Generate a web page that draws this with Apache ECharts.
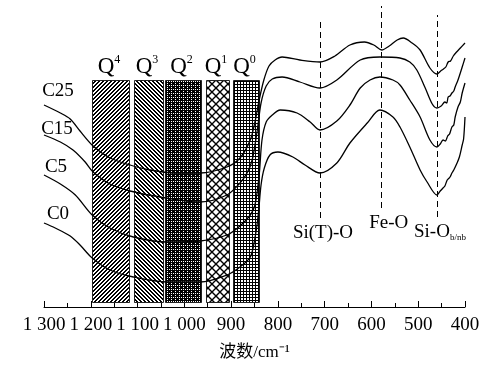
<!DOCTYPE html>
<html>
<head>
<meta charset="utf-8">
<script src="https://cdn.jsdelivr.net/npm/echarts@6/dist/echarts.min.js"></script>
<style>
  html, body { margin: 0; padding: 0; background: #fff; }
  #chart { width: 485px; height: 365px; }
</style>
</head>
<body>
<div id="chart"></div>
<script>
// spectra, [wavenumber cm-1, relative intensity]
const c25 = [[1300,202],[1265,194],[1244,188],[1223,176],[1195,161],[1159,149],[1116,142],[1073,137],[1020,134],[966,134],[909,140],[881,149],[859,167],[849,185],[840,207],[830,227],[819,241],[806,247],[791,250],[753,247],[710,245],[678,251],[646,262],[615,265],[595,262],[578,257],[562,261],[545,267],[532,269],[513,264],[496,257],[475,239],[460,233],[452,236],[446,238],[441,240],[436,245],[431,246],[425,251],[418,255],[410,259],[400,264]];
const c15 = [[1300,172],[1265,165],[1238,157],[1212,145],[1195,135],[1159,123],[1116,116],[1052,110],[966,105],[909,112],[881,124],[866,134],[855,147],[844,177],[836,204],[825,221],[812,228],[791,230],[753,225],[710,219],[674,227],[624,247],[582,250],[539,249],[518,245],[503,237],[485,219],[470,203],[460,199],[451,201],[443,205],[439,204],[436,210],[432,211],[428,214],[424,216],[421,220],[415,227],[406,240],[400,249]];
const c5 = [[1300,132],[1265,123],[1233,112],[1197,92],[1159,79],[1109,70],[1037,65],[966,66],[909,72],[881,81],[859,92],[849,102],[840,132],[834,167],[825,185],[812,192],[795,197],[759,194],[731,185],[710,177],[674,186],[646,202],[624,219],[603,227],[582,230],[554,227],[539,222],[518,207],[496,190],[475,167],[460,160],[453,163],[447,167],[442,166],[437,171],[433,173],[428,180],[424,182],[421,190],[415,200],[410,205],[406,214],[400,224]];
const c0 = [[1300,84],[1276,79],[1244,71],[1223,62],[1197,49],[1159,37],[1109,30],[1037,25],[966,25],[909,32],[881,40],[859,50],[849,69],[842,92],[836,122],[829,139],[817,152],[800,155],[768,150],[742,142],[710,134],[674,144],[646,164],[609,184],[582,197],[554,190],[539,180],[518,160],[496,137],[481,125],[460,112],[453,116],[447,119],[443,121],[438,127],[432,130],[428,134],[424,137],[417,144],[412,150],[406,162],[403,168],[400,190]];
const seriesNames = ['C25', 'C15', 'C5', 'C0'];

// Qn structural units, wavenumber ranges
const bandSup = ['4', '3', '2', '1', '0'];
const bandFrom = [1197, 1107, 1041, 953, 896];
const bandTo = [1118, 1045, 964, 904, 840];
const bandLow = [5, 5, 5, 5, 5];
const bandHigh = [227, 227, 227, 227, 227];

// assigned vibrations
const peakPos = [710, 578, 460];
const peakNames = ['Si(T)-O', 'Fe-O', 'Si-O{sub|b/nb}'];
const peakBottom = [89, 99, 90];
const peakTop = [289, 301, 292];

const FONT = "'Liberation Serif', 'Times New Roman', 'Noto Sans CJK SC', serif";

function makePattern(w, h, draw) {
  const c = document.createElement('canvas');
  c.width = w; c.height = h;
  const ctx = c.getContext('2d');
  ctx.fillStyle = '#fff';
  ctx.fillRect(0, 0, w, h);
  ctx.fillStyle = '#000';
  draw(ctx, w, h);
  return { image: c, repeat: 'repeat' };
}

const patterns = [
  // Q4: forward diagonal
  makePattern(4, 4, (ctx) => {
    for (let i = 0; i < 4; i++) {
      ctx.fillRect(i, 3 - i, 1, 1);
      ctx.fillRect(i, (4 - i) % 4, 1, 1);
    }
  }),
  // Q3: back diagonal
  makePattern(4, 4, (ctx) => {
    for (let i = 0; i < 4; i++) {
      ctx.fillRect(i, i, 1, 1);
      ctx.fillRect(i, (i + 1) % 4, 1, 1);
    }
  }),
  // Q2: dense dark dots
  makePattern(4, 4, (ctx) => {
    ctx.fillRect(0, 0, 4, 4);
    ctx.fillStyle = '#fff';
    ctx.fillRect(1, 1, 1, 1);
    ctx.fillRect(3, 3, 1, 1);
    ctx.fillRect(3, 1, 1, 1);
  }),
  // Q1: diagonal crosshatch
  makePattern(8, 8, (ctx) => {
    ctx.strokeStyle = '#000';
    ctx.lineWidth = 1.4;
    ctx.beginPath();
    ctx.moveTo(0, 0); ctx.lineTo(8, 8);
    ctx.moveTo(0, 8); ctx.lineTo(8, 0);
    ctx.stroke();
  }),
  // Q0: square grid
  makePattern(3, 3, (ctx) => {
    ctx.fillRect(0, 0, 3, 1);
    ctx.fillRect(0, 0, 1, 3);
  })
];

const bandData = bandFrom.map((f, i) => [f, bandTo[i], bandLow[i], bandHigh[i]]);

const labelOffsets = [[14, -14], [13, -6], [12, -8], [14, -9]];

const chart = echarts.init(document.getElementById('chart'));

const lineSeries = [c25, c15, c5, c0].map((d, i) => ({
  name: seriesNames[i],
  type: 'line',
  data: d,
  z: 5,
  smooth: 0.3,
  showSymbol: false,
  symbol: 'none',
  lineStyle: { color: '#000', width: 1.3 },
  emphasis: { disabled: true },
  markPoint: {
    silent: true,
    symbol: 'circle',
    symbolSize: 0,
    label: {
      show: true,
      position: 'inside',
      offset: labelOffsets[i],
      formatter: seriesNames[i],
      color: '#000',
      fontSize: 19,
      fontFamily: FONT
    },
    data: [{ coord: d[0] }]
  }
}));

const option = {
  animation: false,
  backgroundColor: '#fff',
  grid: { left: 44, right: 20, top: 0, bottom: 58, outerBoundsMode: 'none' },
  xAxis: {
    type: 'value',
    inverse: true,
    min: 400,
    max: 1300,
    interval: 100,
    name: '波数/cm⁻¹',
    nameLocation: 'middle',
    nameGap: 37,
    nameTextStyle: { color: '#000', fontSize: 17, fontFamily: FONT },
    axisLine: { show: true, onZero: false, lineStyle: { color: '#000', width: 1 } },
    axisTick: { show: true, inside: true, length: 6, lineStyle: { color: '#000' } },
    minorTick: { show: true, splitNumber: 2, length: 4, lineStyle: { color: '#000' } },
    splitLine: { show: false },
    axisLabel: {
      color: '#000',
      fontSize: 19,
      fontFamily: FONT,
      margin: 9,
      formatter: (v) => v >= 1000 ? Math.floor(v / 1000) + ' ' + String(v % 1000).padStart(3, '0') : String(v)
    }
  },
  yAxis: {
    type: 'value',
    min: 0,
    max: 307,
    show: false
  },
  series: [
    {
      type: 'custom',
      name: 'bands',
      z: 1,
      silent: true,
      data: bandData,
      renderItem: (params, api) => {
        const i = params.dataIndex;
        const a = api.coord([api.value(0), api.value(3)]);
        const b = api.coord([api.value(1), api.value(2)]);
        const x = Math.round(Math.min(a[0], b[0])) + 0.5;
        const y = Math.round(Math.min(a[1], b[1])) + 0.5;
        const w = Math.round(Math.abs(b[0] - a[0]));
        const h = Math.round(Math.abs(b[1] - a[1]));
        return {
          type: 'group',
          children: [
            {
              type: 'rect',
              shape: { x: x, y: y, width: w, height: h },
              style: { fill: patterns[i], stroke: '#222', lineWidth: 1 }
            },
            {
              type: 'text',
              x: x + w / 2 - 2,
              y: y - 1,
              style: {
                text: 'Q{sup|' + bandSup[i] + '}',
                align: 'center',
                verticalAlign: 'bottom',
                fill: '#000',
                fontSize: 23,
                fontFamily: FONT,
                rich: {
                  sup: { fontSize: 12, fontFamily: FONT, verticalAlign: 'top', lineHeight: 26, fill: '#000' }
                }
              }
            }
          ]
        };
      }
    },
    ...lineSeries,
    {
      type: 'line',
      name: 'peaks',
      data: [],
      z: 4,
      markLine: {
        silent: true,
        symbol: ['none', 'none'],
        lineStyle: { color: '#000', type: [6, 4], width: 1 },
        label: {
          show: true,
          position: 'start',
          distance: 6,
          color: '#000',
          fontSize: 19,
          fontFamily: FONT,
          formatter: (p) => p.name,
          rich: {
            sub: { fontSize: 9, fontFamily: FONT, verticalAlign: 'bottom', lineHeight: 6, color: '#000' }
          }
        },
        data: peakPos.map((p, i) => [
          { coord: [p, peakBottom[i]], name: peakNames[i], label: { offset: i === 1 ? [7, 0] : [3, 0] } },
          { coord: [p, peakTop[i]] }
        ])
      }
    }
  ]
};

chart.setOption(option);
</script>
</body>
</html>
